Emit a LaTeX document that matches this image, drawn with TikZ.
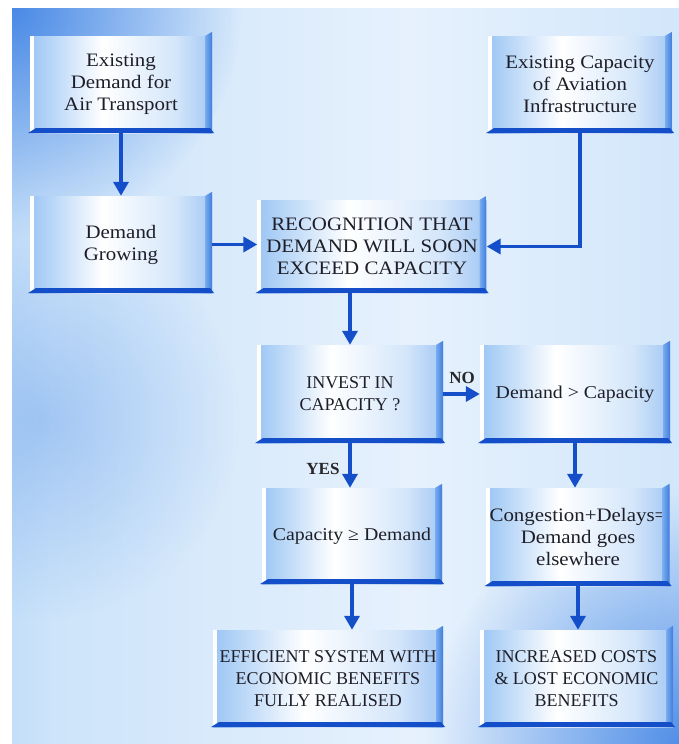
\documentclass[tikz,border=0pt]{standalone}
\usepackage{fontspec}
\newfontfamily\diagserif{Liberation Serif}
\newfontfamily\diagwide{Liberation Serif}[FakeStretch=1.1]
\usetikzlibrary{arrows.meta,calc,fadings}
\tikzfading[name=radfade, inner color=transparent!0, outer color=transparent!100]
\definecolor{arrowblue}{RGB}{20,78,200}
\definecolor{bgdark}{RGB}{60,128,228}
\definecolor{bgA}{RGB}{75,142,232}
\definecolor{bgB}{RGB}{150,195,243}
\definecolor{bgC}{RGB}{205,228,250}
\definecolor{bgD}{RGB}{230,241,253}
\definecolor{boxA}{RGB}{68,136,226}
\definecolor{boxB}{RGB}{130,183,241}
\definecolor{boxC}{RGB}{212,230,250}
\definecolor{boxD}{RGB}{110,166,237}
\definecolor{bevA}{RGB}{120,172,238}
\definecolor{bevB}{RGB}{62,122,220}
\definecolor{textc}{RGB}{30,30,40}
\pgfdeclarehorizontalshading{bgshade}{100bp}{color(0bp)=(bgA); color(10bp)=(bgB); color(28bp)=(bgC); color(55bp)=(bgD); color(80bp)=(bgC); color(100bp)=(bgB)}
\pgfdeclarehorizontalshading{boxshade}{100bp}{color(0bp)=(boxA); color(20bp)=(boxB); color(45bp)=(white); color(65bp)=(boxC); color(86bp)=(boxD); color(100bp)=(boxA)}
\begin{document}
\begin{tikzpicture}[x=1pt,y=-1pt,
  fb/.style={shading=boxshade, align=center, inner sep=0pt,
    font=\diagwide\fontsize{19}{22}\selectfont, text=textc},
  caps/.style={font=\diagserif\fontsize{18}{22}\selectfont},
  oneline/.style={font=\diagwide\fontsize{18}{22}\selectfont},
  arr/.style={draw=arrowblue, line width=3.5pt,
    -{Triangle[width=15pt,length=14pt]}},
  lab/.style={font=\diagserif\fontsize{17}{20}\selectfont\bfseries, text=black!85}]
\useasboundingbox (0,0) rectangle (679,744);
\fill[white] (0,0) rectangle (679,744);
\begin{scope}
\clip (12,8) rectangle (679,744);
\shade[shading=bgshade] (12,8) rectangle (679,744);
\fill[bgdark, path fading=radfade, opacity=0.9] (12,8) circle (230pt);
\fill[bgdark, path fading=radfade, opacity=0.85] (679,744) circle (250pt);
\fill[bgdark, path fading=radfade, opacity=0.3] (40,420) circle (200pt);
\end{scope}

\node[fb, minimum width=182pt, minimum height=97pt] (a) at (121,84.5) {Existing\\Demand for\\Air Transport};
\node[fb, minimum width=184pt, minimum height=97pt] (b) at (580,84.5) {Existing Capacity\\of Aviation\\Infrastructure};
\node[fb, minimum width=182pt, minimum height=97pt] (c) at (121,244.5) {Demand\\Growing};
\node[fb, minimum width=229pt, minimum height=93pt] (d) at (372,246.5) {RECOGNITION THAT\\DEMAND WILL SOON\\EXCEED CAPACITY};
\node[fb, caps, minimum width=186pt, minimum height=98pt] (e) at (350,394) {INVEST IN\\CAPACITY ?};
\node[fb, oneline, minimum width=190pt, minimum height=98pt] (f) at (575,394) {Demand > Capacity};
\node[fb, oneline, minimum width=180pt, minimum height=96pt] (g) at (352,536) {Capacity ≥ Demand};
\node[fb, minimum width=183pt, minimum height=98pt] (h) at (578,537) {Congestion+Delays=\\Demand goes\\elsewhere};
\node[fb, caps, minimum width=230pt, minimum height=97pt] (i) at (328,678.5) {EFFICIENT SYSTEM WITH\\ECONOMIC BENEFITS\\FULLY REALISED};
\node[fb, caps, minimum width=193pt, minimum height=97pt] (j) at (576.5,678.5) {INCREASED COSTS\\\& LOST ECONOMIC\\BENEFITS};

\foreach \n in {a,b,c,d,e,f,g,h,i,j}{
  \fill[white] (\n.north west) rectangle ([xshift=4pt]\n.south west);
  \shade[left color=bevA, right color=bevB] ([xshift=-7pt]\n.north east) -- ([yshift=4pt]\n.north east) -- (\n.south east) -- ([xshift=-7pt]\n.south east) -- cycle;
  \fill[arrowblue] ([xshift=-2pt]\n.south west) -- ([xshift=2pt]\n.south east) -- ([xshift=-2pt,yshift=5pt]\n.south east) -- ([xshift=6pt,yshift=5pt]\n.south west) -- cycle;
}

\draw[arr] (a.south) -- (a.south |- c.north);
\draw[arr] (b.south) |- (d.east);
\draw[arr] (c.east) -- (c.east -| d.west);
\draw[arr] (e.north |- d.south) -- (e.north);
\draw[arr] (e.east) -- (e.east -| f.west);
\draw[arr] (e.south) -- (e.south |- g.north);
\draw[arr] (f.south) -- (f.south |- h.north);
\draw[arr] (g.south) -- (g.south |- i.north);
\draw[arr] (h.south) -- (h.south |- j.north);

\node[lab] (no) at (462,378) {NO};
\node[lab] (yes) at (323,469) {YES};
\end{tikzpicture}
\end{document}
